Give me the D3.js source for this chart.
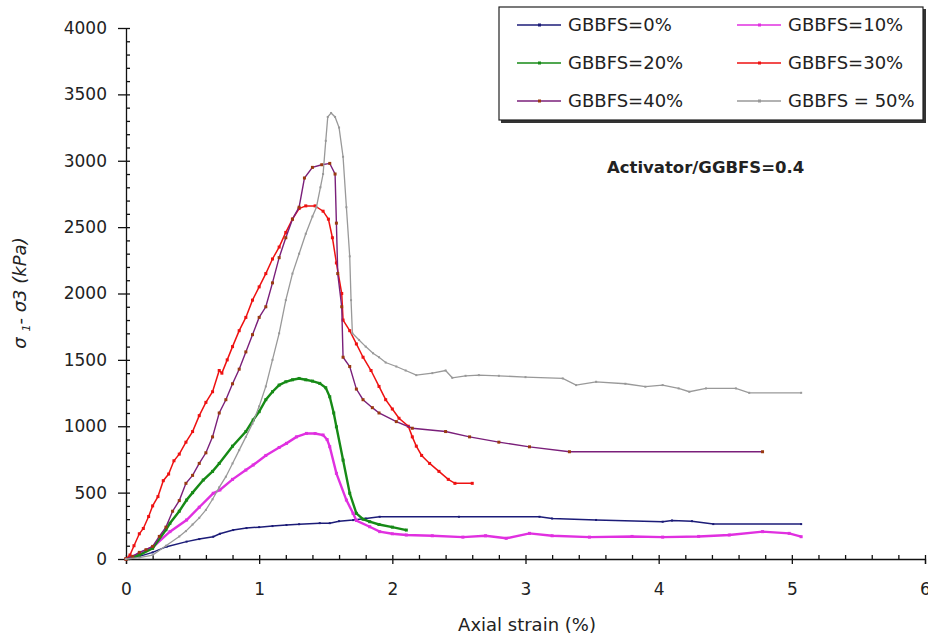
<!DOCTYPE html>
<html>
<head>
<meta charset="utf-8">
<script src="https://cdn.jsdelivr.net/npm/d3@7"></script>
<style>
  body { margin: 0; background: #fff; }
  svg text { font-family: "DejaVu Sans", Verdana, sans-serif; fill: #222; }
</style>
</head>
<body>
<div id="app"></div>
<script>
// strain (%) , deviator stress (kPa)
const gb0 = [[0,0],[0.1,20],[0.2,50],[0.305,93],[0.455,131],[0.55,150],[0.655,168],[0.705,190],[0.805,218],[0.905,233],[1.0,240],[1.1,248],[1.205,256],[1.3,262],[1.455,270],[1.53,270],[1.6,285],[1.705,293],[1.8,305],[1.905,318],[2.5,318],[3.105,318],[3.2,305],[3.53,294],[4.03,281],[4.1,290],[4.25,285],[4.41,263],[5.07,263]]
const gb10 = [[0,0],[0.1,40],[0.205,93],[0.33,206],[0.455,294],[0.55,390],[0.655,495],[0.705,520],[0.8,600],[0.9,670],[0.955,708],[1.05,780],[1.15,840],[1.205,871],[1.28,920],[1.355,946],[1.42,945],[1.48,934],[1.51,900],[1.53,846],[1.58,645],[1.655,444],[1.705,344],[1.73,290],[1.83,243],[1.905,206],[2.0,190],[2.105,181],[2.3,175],[2.53,165],[2.7,175],[2.855,156],[3.03,193],[3.2,175],[3.48,165],[3.8,170],[4.03,165],[4.3,170],[4.53,181],[4.78,206],[4.98,193],[5.07,168]]
const gb20 = [[0,0],[0.1,30],[0.2,80],[0.3,220],[0.33,269],[0.4,360],[0.455,444],[0.5,500],[0.58,595],[0.65,660],[0.7,720],[0.8,850],[0.9,960],[0.955,1047],[1.0,1110],[1.05,1200],[1.1,1260],[1.15,1310],[1.2,1335],[1.25,1350],[1.3,1360],[1.35,1350],[1.4,1340],[1.455,1323],[1.5,1290],[1.53,1222],[1.56,1100],[1.58,996],[1.63,745],[1.68,495],[1.73,344],[1.78,300],[1.83,281],[1.9,260],[2.0,240],[2.105,218]]
const gb30 = [[0,0],[0.03,30],[0.06,100],[0.1,190],[0.13,230],[0.17,320],[0.2,400],[0.24,470],[0.28,590],[0.32,640],[0.36,740],[0.4,790],[0.45,880],[0.5,960],[0.55,1080],[0.6,1180],[0.65,1260],[0.7,1420],[0.72,1400],[0.76,1500],[0.8,1600],[0.85,1720],[0.9,1820],[0.95,1950],[1.0,2050],[1.05,2150],[1.1,2260],[1.15,2350],[1.2,2460],[1.25,2560],[1.3,2640],[1.35,2660],[1.42,2660],[1.48,2620],[1.52,2560],[1.55,2420],[1.58,2230],[1.62,2000],[1.63,1800],[1.68,1720],[1.73,1620],[1.78,1520],[1.84,1420],[1.9,1300],[1.95,1200],[2.0,1130],[2.05,1060],[2.12,1000],[2.15,920],[2.18,850],[2.22,780],[2.28,720],[2.35,660],[2.42,600],[2.47,570],[2.6,570]]
const gb40 = [[0,0],[0.05,20],[0.1,50],[0.15,70],[0.2,95],[0.25,170],[0.3,240],[0.35,360],[0.4,440],[0.45,570],[0.5,630],[0.55,720],[0.6,800],[0.65,920],[0.7,1100],[0.75,1200],[0.8,1320],[0.85,1430],[0.9,1560],[0.95,1690],[1.0,1820],[1.05,1900],[1.1,2080],[1.15,2270],[1.2,2420],[1.25,2560],[1.3,2650],[1.34,2870],[1.4,2950],[1.47,2970],[1.53,2980],[1.57,2900],[1.58,2530],[1.59,2150],[1.62,1900],[1.63,1520],[1.68,1450],[1.73,1280],[1.78,1200],[1.85,1140],[1.9,1100],[2.03,1035],[2.15,985],[2.4,960],[2.58,920],[2.8,880],[3.03,845],[3.33,808],[4.78,808]]
const gb50 = [[0,0],[0.1,10],[0.2,30],[0.3,100],[0.4,170],[0.45,210],[0.5,260],[0.55,310],[0.6,370],[0.65,450],[0.7,540],[0.75,620],[0.8,720],[0.85,820],[0.9,920],[0.95,1020],[1.0,1150],[1.05,1300],[1.1,1500],[1.15,1700],[1.2,1950],[1.25,2150],[1.3,2300],[1.35,2450],[1.4,2580],[1.43,2650],[1.46,2800],[1.48,2900],[1.5,3150],[1.515,3330],[1.54,3360],[1.57,3330],[1.6,3250],[1.63,3030],[1.655,2650],[1.68,2280],[1.69,1950],[1.7,1700],[1.75,1650],[1.8,1600],[1.855,1550],[1.9,1520],[1.95,1480],[2.03,1450],[2.1,1420],[2.18,1385],[2.3,1400],[2.4,1420],[2.45,1365],[2.55,1380],[2.65,1385],[2.8,1380],[3.0,1370],[3.28,1360],[3.38,1310],[3.53,1335],[3.75,1320],[3.9,1298],[4.03,1310],[4.15,1285],[4.23,1260],[4.355,1285],[4.58,1285],[4.68,1252],[5.07,1252]]

const names = ['GBBFS=0%','GBBFS=10%','GBBFS=20%','GBBFS=30%','GBBFS=40%','GBBFS = 50%']
const xTicks = [0,1,2,3,4,5,6]
const yTicks = [0,500,1000,1500,2000,2500,3000,3500,4000]

const series = [
  {name: names[0], data: gb0,  line: '#1c1c78', mark: '#1c1c78', w: 1.5, ms: 2},
  {name: names[1], data: gb10, line: '#e030e0', mark: '#e030e0', w: 2.4, ms: 3},
  {name: names[2], data: gb20, line: '#168a16', mark: '#168a16', w: 2.4, ms: 3},
  {name: names[3], data: gb30, line: '#ee1111', mark: '#ee1111', w: 1.5, ms: 3},
  {name: names[4], data: gb40, line: '#7a1f7a', mark: '#9a3a10', w: 1.4, ms: 3},
  {name: names[5], data: gb50, line: '#999999', mark: '#999999', w: 1.3, ms: 2}
]

const svg = d3.select('#app').append('svg').attr('width',928).attr('height',639)

const x = d3.scaleLinear().domain([0,6]).range([126,925])
const y = d3.scaleLinear().domain([0,4000]).range([559,28])

// x axis: minor ticks up, major ticks down with labels
svg.append('g').attr('transform','translate(0,559)')
  .call(d3.axisBottom(x).tickValues(d3.range(0,6.01,0.2)).tickSize(-4).tickFormat(''))
  .call(g => g.select('.domain').remove())
svg.append('g').attr('class','xaxis').attr('transform','translate(0,559)')
  .call(d3.axisBottom(x).tickValues(xTicks).tickSize(5).tickPadding(19).tickFormat(d3.format('d')))

// y axis: minor ticks right, major ticks left
svg.append('g').attr('transform','translate(126,0)')
  .call(d3.axisRight(y).tickValues(d3.range(0,4001,100)).tickSize(4).tickFormat(''))
  .call(g => g.select('.domain').remove())
svg.append('g').attr('class','yaxis').attr('transform','translate(126,0)')
  .call(d3.axisLeft(y).tickValues(yTicks).tickSize(8).tickPadding(11).tickSizeOuter(0).tickFormat(d3.format('d')))

svg.selectAll('.tick line, .domain').attr('stroke','#111').attr('stroke-width',1.3)
svg.selectAll('.xaxis text').style('font-size','17px').attr('fill','#222')
svg.selectAll('.yaxis text').style('font-size','17px').attr('fill','#222')

const line = d3.line().x(d => x(d[0])).y(d => y(d[1]))

series.forEach(s => {
  svg.append('path').datum(s.data)
    .attr('d', line).attr('fill','none')
    .attr('stroke', s.line).attr('stroke-width', s.w)
  svg.append('g').selectAll('rect').data(s.data).enter().append('rect')
    .attr('x', d => x(d[0]) - s.ms/2).attr('y', d => y(d[1]) - s.ms/2)
    .attr('width', s.ms).attr('height', s.ms).attr('fill', s.mark)
})

// legend
svg.append('rect').attr('x',501).attr('y',9).attr('width',425).attr('height',114).attr('fill','#333')
svg.append('rect').attr('x',499).attr('y',7).attr('width',424).attr('height',113)
  .attr('fill','#fff').attr('stroke','#222').attr('stroke-width',1.2)

const leg = svg.append('g')
series.forEach((s,i) => {
  const col = i % 2, row = Math.floor(i/2)
  const lx = col ? 737 : 517, ly = 25 + row*38
  leg.append('line').attr('x1',lx).attr('x2',lx+44).attr('y1',ly).attr('y2',ly)
    .attr('stroke', s.line).attr('stroke-width', 1.5)
  leg.append('rect').attr('x',lx+21).attr('y',ly-1.5).attr('width',3).attr('height',3).attr('fill',s.mark)
  leg.append('text').attr('x',lx+51).attr('y',ly).attr('dy','0.36em')
    .style('font-size','18px').text(s.name)
})

svg.append('text').attr('x',607).attr('y',167).attr('dy','0.36em')
  .style('font-size','16.5px').style('font-weight','bold').text('Activator/GGBFS=0.4')

svg.append('text').attr('x',527).attr('y',631).attr('text-anchor','middle')
  .style('font-size','18px').text('Axial strain (%)')

const yl = svg.append('text').attr('transform','translate(26,293) rotate(-90)')
  .attr('text-anchor','middle').style('font-size','18px').style('font-style','italic')
yl.append('tspan').text('σ ')
yl.append('tspan').attr('dy',4).style('font-size','11px').text('1')
yl.append('tspan').attr('dy',-4).text('- σ3 (kPa)')
</script>
</body>
</html>
